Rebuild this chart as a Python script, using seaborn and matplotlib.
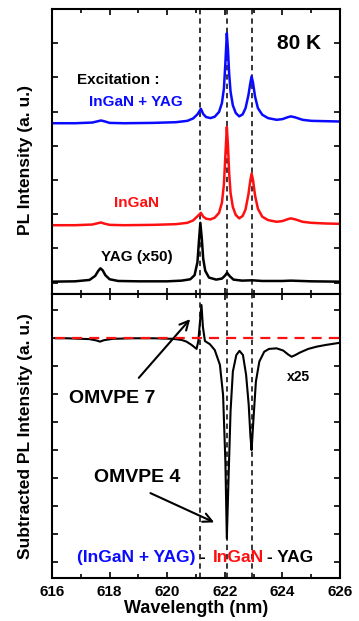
import matplotlib
matplotlib.use("Agg")
import matplotlib.pyplot as plt
import seaborn as sns
from matplotlib.ticker import MultipleLocator

# ---------------- data ----------------
wl_top = [616.0, 616.8, 617.4, 617.6, 617.7, 617.8, 618.0, 618.5, 619.5, 620.3,
          620.7, 620.9, 621.05, 621.17, 621.25, 621.35, 621.5, 621.65, 621.8, 621.9,
          621.97, 622.02, 622.07, 622.11, 622.15, 622.2, 622.28, 622.38, 622.5, 622.62,
          622.72, 622.82, 622.88, 622.93, 622.98, 623.05, 623.15, 623.3, 623.5, 623.8,
          624.0, 624.2, 624.3, 624.45, 624.7, 625.0, 625.5, 626.0]
ingan_yag = [4.66, 4.66, 4.68, 4.72, 4.74, 4.72, 4.67, 4.66, 4.67, 4.69,
             4.73, 4.80, 4.92, 5.08, 4.93, 4.84, 4.81, 4.85, 4.99, 5.25,
             5.68, 6.42, 7.29, 6.80, 6.12, 5.58, 5.18, 4.96, 4.86, 4.92,
             5.10, 5.48, 5.80, 6.03, 5.84, 5.44, 5.10, 4.91, 4.81, 4.76,
             4.78, 4.84, 4.86, 4.83, 4.76, 4.73, 4.72, 4.71]
ingan = [1.68, 1.68, 1.70, 1.74, 1.76, 1.73, 1.69, 1.68, 1.69, 1.71,
         1.75, 1.82, 1.94, 2.04, 1.93, 1.87, 1.85, 1.90, 2.04, 2.34,
         2.88, 3.72, 4.55, 4.00, 3.22, 2.62, 2.21, 1.98, 1.88, 1.95,
         2.14, 2.58, 2.95, 3.19, 3.00, 2.55, 2.16, 1.93, 1.83, 1.78,
         1.80, 1.86, 1.88, 1.85, 1.78, 1.75, 1.73, 1.72]

wl_yag = [616.0, 616.8, 617.3, 617.5, 617.6, 617.68, 617.76, 617.85, 618.0, 618.3,
          619.0, 620.0, 620.5, 620.8, 620.95, 621.05, 621.1, 621.15, 621.2, 621.25,
          621.32, 621.45, 621.7, 621.9, 622.0, 622.08, 622.16, 622.3, 622.6, 622.95,
          623.3, 624.0, 624.3, 625.0, 626.0]
yag_x50 = [0.03, 0.04, 0.08, 0.20, 0.34, 0.42, 0.36, 0.22, 0.10, 0.05,
           0.04, 0.04, 0.06, 0.10, 0.22, 0.60, 1.20, 1.75, 1.30, 0.70,
           0.35, 0.15, 0.09, 0.12, 0.20, 0.29, 0.20, 0.09, 0.06, 0.07,
           0.05, 0.05, 0.06, 0.04, 0.03]

wl_sub = [616.1, 616.5, 617.3, 617.55, 617.66, 617.8, 618.1, 618.8, 619.5, 620.2,
          620.5, 620.67, 620.85, 621.02, 621.08, 621.13, 621.19, 621.24, 621.31, 621.48,
          621.65, 621.83, 621.94, 622.02, 622.07, 622.13, 622.2, 622.28, 622.4, 622.51,
          622.63, 622.74, 622.83, 622.89, 622.93, 622.99, 623.08, 623.2, 623.37, 623.54,
          623.8, 624.03, 624.2, 624.32, 624.45, 624.61, 624.9, 625.19, 625.5, 625.88, 626.0]
subtracted = [0.00, 0.00, -0.03, -0.08, -0.12, -0.07, -0.02, 0.00, 0.00, -0.02,
              -0.06, -0.12, -0.24, -0.38, -0.10, 0.50, 1.19, 0.40, -0.10, -0.21,
              -0.42, -0.95, -2.03, -4.41, -7.16, -5.00, -2.60, -1.19, -0.60, -0.45,
              -0.60, -1.31, -2.38, -3.50, -4.00, -2.98, -1.55, -0.83, -0.48, -0.38,
              -0.36, -0.44, -0.58, -0.66, -0.60, -0.51, -0.38, -0.30, -0.24, -0.18, -0.16]

peak_lines = [621.15, 622.07, 622.94]
x_ticks = [616, 618, 620, 622, 624, 626]

# ---------------- style ----------------
sns.set_style("ticks")
plt.rcParams["font.family"] = ["Liberation Sans", "DejaVu Sans"]
plt.rcParams["font.weight"] = "bold"
for k in ["text.color", "axes.labelcolor", "xtick.color", "ytick.color", "axes.edgecolor"]:
    plt.rcParams[k] = "black"

BLUE = "#0a0aff"
RED = "#ff1010"

fig = plt.figure(figsize=(3.59, 6.21), dpi=100)
ax_t = fig.add_axes([0.145, 0.5266, 0.802, 0.459])
ax_b = fig.add_axes([0.145, 0.0692, 0.802, 0.4574])

sns.lineplot(x=wl_top, y=ingan_yag, ax=ax_t, color=BLUE, lw=1.8, sort=False, estimator=None)
sns.lineplot(x=wl_top, y=ingan, ax=ax_t, color=RED, lw=1.8, sort=False, estimator=None)
sns.lineplot(x=wl_yag, y=yag_x50, ax=ax_t, color="black", lw=1.8, sort=False, estimator=None)

ax_b.axhline(0, xmin=0.01, xmax=1, color=RED, lw=1.6, ls=(0, (4.5, 3.2)), zorder=4)
sns.lineplot(x=wl_sub, y=subtracted, ax=ax_b, color="black", lw=1.5, sort=False, estimator=None)

for ax in (ax_t, ax_b):
    for p in peak_lines:
        ax.axvline(p, color="black", lw=1.1, ls=(0, (3.5, 2.6)), zorder=1)
    ax.set_xlim(616, 626)
    ax.xaxis.set_major_locator(MultipleLocator(2))
    ax.xaxis.set_minor_locator(MultipleLocator(1))
    ax.yaxis.set_major_locator(MultipleLocator(1))
    ax.tick_params(which="both", direction="in", top=True, right=True,
                   labelleft=False, width=1.2, color="black")
    ax.tick_params(which="major", length=4)
    ax.tick_params(which="minor", length=3)
    for s in ax.spines.values():
        s.set_linewidth(1.5)
        s.set_color("black")
        s.set_visible(True)
    ax.set_ylabel("")
    ax.set_xlabel("")

ax_t.set_ylim(-0.33, 8.0)
ax_b.set_ylim(-8.58, 1.585)
ax_t.tick_params(labelbottom=False)
ax_b.set_xticks(x_ticks)
ax_b.set_xticklabels([str(t) for t in x_ticks], fontsize=11, fontweight="bold",
                     color="black")
ax_b.tick_params(axis="x", pad=5)

ax_b.set_xlabel("Wavelength (nm)", fontsize=13, fontweight="bold", labelpad=1,
                color="black")
fig.text(0.07, 1 - 160 / 621, "PL Intensity (a. u.)", rotation=90, fontsize=12.5,
         fontweight="bold", ha="center", va="center", color="black")
fig.text(0.07, 1 - 436 / 621, "Subtracted PL Intensity (a. u.)", rotation=90,
         fontsize=12.5, fontweight="bold", ha="center", va="center", color="black")

# top panel annotations
ax_t.text(624.58, 6.99, "80 K", fontsize=15, fontweight="bold", ha="center", va="center",
          color="black")
ax_t.text(618.29, 5.91, "Excitation :", fontsize=11, fontweight="bold", ha="center",
          va="center", color="black")
ax_t.text(618.91, 5.27, "InGaN + YAG", fontsize=11, fontweight="bold", color=BLUE,
          ha="center", va="center")
ax_t.text(618.95, 2.32, "InGaN", fontsize=11, fontweight="bold", color=RED,
          ha="center", va="center")
ax_t.text(618.95, 0.75, "YAG (x50)", fontsize=11, fontweight="bold", color="black",
          ha="center", va="center")

# bottom panel annotations
ax_b.text(624.55, -1.39, "x25", fontsize=10, fontweight="bold", ha="center", va="center",
          color="black")
ax_b.text(618.08, -2.14, "OMVPE 7", fontsize=14, fontweight="bold", ha="center",
          va="center", color="black")
ax_b.text(618.95, -5.0, "OMVPE 4", fontsize=14, fontweight="bold", ha="center",
          va="center", color="black")
ax_b.annotate("", xy=(620.86, 0.76), xytext=(618.95, -1.49),
              arrowprops=dict(arrowstyle="->", lw=1.5, color="black",
                              mutation_scale=16))
ax_b.annotate("", xy=(621.72, -6.63), xytext=(619.33, -5.5),
              arrowprops=dict(arrowstyle="->", lw=1.5, color="black",
                              mutation_scale=16))

ax_b.text(616.86, -7.83, "(InGaN + YAG)", fontsize=12.5, fontweight="bold", color=BLUE,
          ha="left", va="center")
ax_b.text(621.13, -7.83, "-", fontsize=12.5, fontweight="bold", color="black",
          ha="left", va="center")
ax_b.text(621.59, -7.83, "InGaN", fontsize=12.5, fontweight="bold", color=RED,
          ha="left", va="center")
ax_b.text(623.46, -7.83, "- YAG", fontsize=12.5, fontweight="bold", color="black",
          ha="left", va="center")

fig.savefig("out.png", dpi=100)
